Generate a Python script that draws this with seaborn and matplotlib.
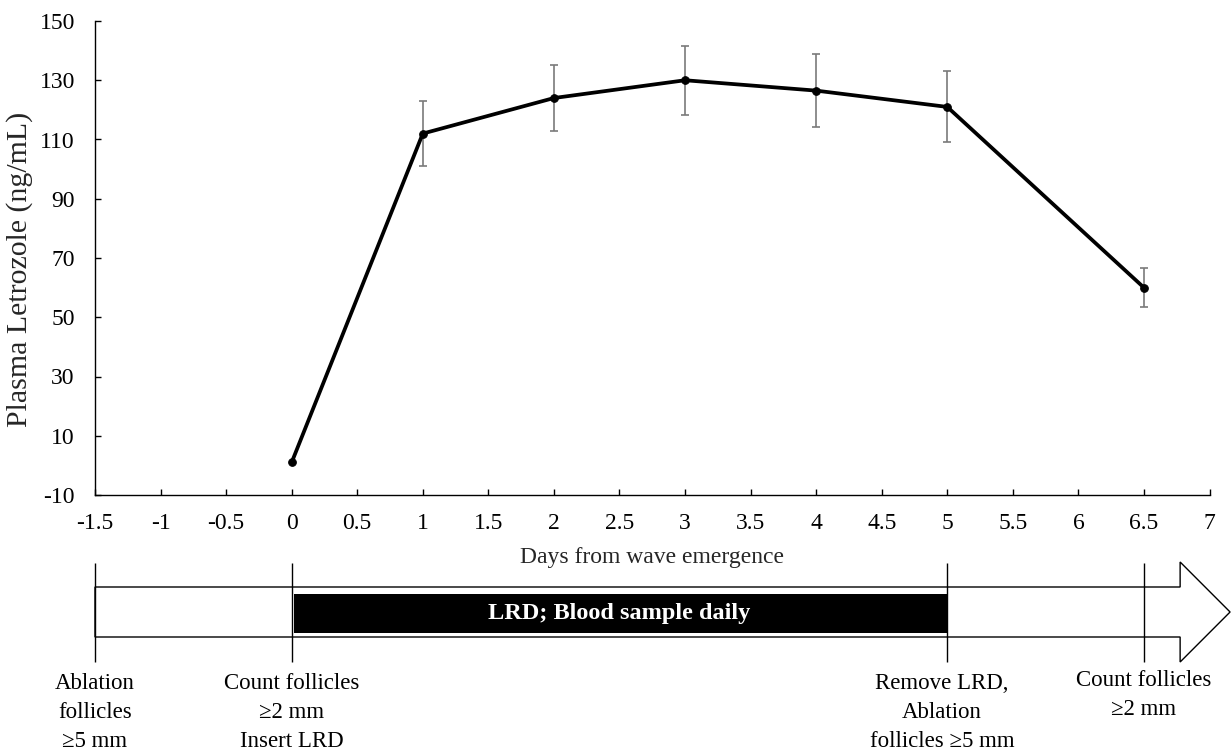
import numpy as np
import pandas as pd
import matplotlib
matplotlib.use("Agg")
import matplotlib.pyplot as plt
from matplotlib.patches import Polygon, Rectangle
import seaborn as sns

# Plasma letrozole concentration (mean ± SEM) by day from wave emergence
days = [0, 1, 2, 3, 4, 5, 6.5]
letrozole = [1, 112, 124, 130, 126.5, 121, 60]
sem = [0, 11, 11, 11.7, 12.2, 12, 6.5]

x_ticks = [-1.5, -1, -0.5, 0, 0.5, 1, 1.5, 2, 2.5, 3, 3.5, 4, 4.5, 5, 5.5, 6, 6.5, 7]
y_ticks = [-10, 10, 30, 50, 70, 90, 110, 130, 150]

# Protocol timeline events
event_days = [-1.5, 0, 5, 6.5]
event_labels = [
    "Ablation\nfollicles\n\u22655 mm",
    "Count follicles\n\u22652 mm\nInsert LRD",
    "Remove LRD,\nAblation\nfollicles \u22655 mm",
    "Count follicles\n\u22652 mm",
]
lrd_start, lrd_end = 0, 5
lrd_text = "LRD; Blood sample daily"

sns.set_theme(style="ticks")
plt.rcParams["font.family"] = ["Liberation Serif", "DejaVu Serif"]
plt.rcParams["axes.unicode_minus"] = False

W, H = 1231, 753
fig = plt.figure(figsize=(W / 100, H / 100), dpi=100)
ax = fig.add_axes([95 / W, 1 - 495 / H, 1114.5 / W, 474 / H])

df = pd.DataFrame({"day": days, "conc": letrozole, "sem": sem})
err = df[df["sem"] > 0]
ax.errorbar(err["day"], err["conc"], yerr=err["sem"], fmt="none",
            ecolor="#7a7a7a", elinewidth=1.2, capsize=2.6, capthick=1.2, zorder=2)
sns.lineplot(data=df, x="day", y="conc", ax=ax, color="black", linewidth=2.7,
             marker="o", markersize=5.5, markeredgecolor="black", zorder=3)

ax.set_xlim(-1.5, 7)
ax.set_ylim(-10, 150)
ax.set_xticks(x_ticks)
ax.set_xticklabels([f"{t:g}" for t in x_ticks])
ax.set_yticks(y_ticks)
ax.set_yticklabels([f"{t:g}" for t in y_ticks])
ax.tick_params(axis="both", direction="in", length=4, width=1, colors="black", labelsize=17)
ax.tick_params(axis="y", pad=14.5)
ax.tick_params(axis="x", pad=13)
for side in ("top", "right"):
    ax.spines[side].set_visible(False)
for side in ("left", "bottom"):
    ax.spines[side].set_color("black")
    ax.spines[side].set_linewidth(1.0)
ax.set_xlabel("Days from wave emergence", fontsize=17, labelpad=9)
ax.set_ylabel("Plasma Letrozole (ng/mL)", fontsize=21.5)
ax.yaxis.set_label_coords(-0.0556, 0.477)

# Timeline diagram under the chart, sharing the day scale
tl = fig.add_axes([95 / W, 1 - 665 / H, 1114.5 / W, 105 / H])
tl.set_xlim(-1.5, 7)
tl.set_ylim(665, 560)
tl.axis("off")

head_base, head_tip = 6.776, 7.157
arrow = Polygon([(-1.5, 587), (head_base, 587), (head_base, 562), (head_tip, 612),
                 (head_base, 662), (head_base, 637), (-1.5, 637)],
                closed=True, facecolor="white", edgecolor="black", linewidth=1.0,
                clip_on=False, zorder=1)
tl.add_patch(arrow)
tl.add_patch(Rectangle((lrd_start + 0.02, 594), lrd_end - lrd_start - 0.02, 39.5,
                       facecolor="black", edgecolor="none", clip_on=False, zorder=2))
tl.text((lrd_start + lrd_end) / 2, 613.5, lrd_text, color="white", fontsize=17.5,
        fontweight="bold", ha="center", va="center", zorder=3)
tl.vlines(event_days, 563, 662, color="black", linewidth=1.0, clip_on=False, zorder=3)

label_top = [673, 673, 673, 670]
label_shift = [0, 0, -0.04, 0]
for d, dx, top, lab in zip(event_days, label_shift, label_top, event_labels):
    tl.text(d + dx, top, lab, fontsize=16.5, ha="center", va="top", linespacing=1.5,
            color="black", clip_on=False)

fig.savefig("out.png", dpi=100)
